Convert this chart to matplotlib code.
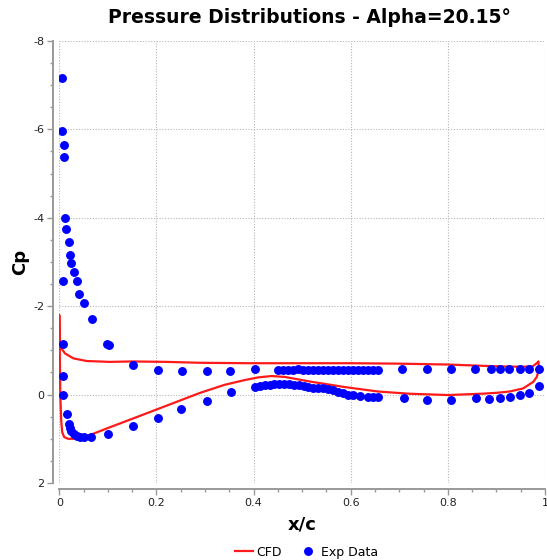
import matplotlib
matplotlib.use('Agg')
import matplotlib.pyplot as plt
from matplotlib.ticker import MultipleLocator

exp_x_upper = [0.005, 0.006, 0.009, 0.009, 0.011, 0.013, 0.019, 0.022, 0.025, 0.031,
               0.036, 0.041, 0.050, 0.067, 0.099, 0.103, 0.152, 0.203, 0.252, 0.305,
               0.351, 0.403,
               0.451, 0.461, 0.471, 0.481, 0.491, 0.502, 0.512, 0.522, 0.532, 0.543,
               0.553, 0.563, 0.574, 0.584, 0.594, 0.604, 0.615, 0.625, 0.635, 0.646,
               0.656,
               0.705, 0.756, 0.807, 0.856, 0.888, 0.908, 0.925, 0.948, 0.968, 0.988]
exp_cp_upper = [-7.16, -5.97, -5.64, -5.38, -4.00, -3.74, -3.45, -3.16, -2.97, -2.77,
                -2.57, -2.28, -2.08, -1.72, -1.14, -1.13, -0.67, -0.55, -0.53, -0.53,
                -0.53, -0.57,
                -0.55, -0.55, -0.56, -0.56, -0.57, -0.56, -0.56, -0.55, -0.56, -0.56,
                -0.56, -0.56, -0.56, -0.56, -0.56, -0.55, -0.56, -0.56, -0.56, -0.55,
                -0.56,
                -0.57, -0.59, -0.59, -0.58, -0.58, -0.58, -0.58, -0.57, -0.57, -0.57]

exp_x_lower = [0.007, 0.007, 0.008, 0.008, 0.015, 0.019, 0.022, 0.025, 0.030, 0.036,
               0.043, 0.050, 0.066, 0.100, 0.152, 0.203, 0.251, 0.305, 0.353,
               0.403, 0.413, 0.423, 0.433, 0.443, 0.453, 0.463, 0.473, 0.483, 0.493,
               0.503, 0.513, 0.523, 0.533, 0.543, 0.553, 0.563, 0.573, 0.584, 0.594,
               0.605, 0.619, 0.636, 0.646, 0.656,
               0.709, 0.757, 0.807, 0.857, 0.885, 0.907, 0.927, 0.949, 0.967, 0.988]
exp_cp_lower = [-2.58, -1.15, -0.42, 0.02, 0.44, 0.66, 0.75, 0.83, 0.89, 0.94,
                0.96, 0.96, 0.95, 0.89, 0.71, 0.53, 0.32, 0.14, -0.06,
                -0.18, -0.20, -0.21, -0.22, -0.23, -0.24, -0.24, -0.23, -0.22, -0.21,
                -0.20, -0.18, -0.16, -0.15, -0.14, -0.13, -0.11, -0.07, -0.03, 0.00,
                0.02, 0.04, 0.05, 0.05, 0.05,
                0.08, 0.12, 0.12, 0.08, 0.10, 0.07, 0.05, 0.02, -0.03, -0.19]

# --- CFD Cp curve (upper TE -> LE -> lower TE) ---
cfd_x = [0.986, 0.975, 0.950, 0.900, 0.850, 0.800, 0.700, 0.600, 0.500, 0.390,
         0.290, 0.220, 0.150, 0.104, 0.056, 0.029, 0.012, 0.004, 0.001, 0.000,
         0.000, 0.001, 0.002, 0.004, 0.006, 0.010, 0.018, 0.036, 0.050, 0.104,
         0.152, 0.221, 0.290, 0.340, 0.382, 0.410, 0.437, 0.464, 0.519, 0.588,
         0.656, 0.720, 0.800, 0.870, 0.900, 0.927, 0.955, 0.976, 0.983, 0.988,
         0.986]
cfd_cp = [-0.74, -0.64, -0.63, -0.64, -0.66, -0.68, -0.70, -0.71, -0.71, -0.71,
          -0.72, -0.74, -0.75, -0.74, -0.76, -0.82, -0.93, -1.05, -1.16, -1.50,
          -1.80, -1.00, 0.00, 0.60, 0.85, 0.96, 1.00, 1.00, 0.97, 0.74,
          0.54, 0.25, -0.04, -0.22, -0.33, -0.39, -0.42, -0.40, -0.29, -0.17,
          -0.07, -0.02, 0.01, -0.02, -0.04, -0.07, -0.14, -0.29, -0.40, -0.59,
          -0.74]

x_ticks = [0, 0.2, 0.4, 0.6, 0.8, 1]
x_tick_labels = ['0', '0.2', '0.4', '0.6', '0.8', '1']
y_ticks = [-8, -6, -4, -2, 0, 2]
y_tick_labels = ['-8', '-6', '-4', '-2', '0', '2']


def main():
    plt.rcParams['font.family'] = ['DejaVu Sans']
    fig = plt.figure(figsize=(5.47, 5.6), dpi=100)
    ax = fig.add_axes([0.1084, 0.1375, 0.888, 0.7893])

    ax.plot(cfd_x, cfd_cp, color='#ff1a1a', lw=1.6, label='CFD', zorder=3)
    ax.plot(exp_x_upper + exp_x_lower, exp_cp_upper + exp_cp_lower, ls='',
            marker='o', ms=5.4, color='#0000ff', mec='#0000ff', label='Exp Data', zorder=4)

    ax.set_xlim(0, 1)
    ax.set_ylim(2, -8)  # Cp axis inverted
    ax.set_xticks(x_ticks)
    ax.set_xticklabels(x_tick_labels)
    ax.set_yticks(y_ticks)
    ax.set_yticklabels(y_tick_labels)
    ax.xaxis.set_minor_locator(MultipleLocator(0.05))
    ax.yaxis.set_minor_locator(MultipleLocator(0.5))

    ax.grid(True, which='major', ls=(0, (1, 1.5)), color='#b5b5b5', lw=0.8)
    for side in ['top', 'right']:
        ax.spines[side].set_visible(False)
    for side in ['left', 'bottom']:
        ax.spines[side].set_position(('outward', 4.5))
        ax.spines[side].set_color('#999999')
        ax.spines[side].set_linewidth(1.4)
    ax.tick_params(which='major', length=4, width=1, color='#999999', labelsize=8,
                   labelcolor='#222222', pad=2)
    ax.tick_params(which='minor', length=2.5, width=1, color='#999999')

    ax.set_xlabel('x/c', fontsize=13, fontweight='bold', labelpad=6)
    ax.set_ylabel('Cp', fontsize=13, fontweight='bold', labelpad=3)
    fig.suptitle('Pressure Distributions - Alpha=20.15\u00b0', x=0.565, y=0.985,
                 fontsize=13.5, fontweight='bold')

    fig.legend(loc='lower center', bbox_to_anchor=(0.56, -0.018), ncol=2, frameon=False,
               fontsize=9, handlelength=1.4, handletextpad=0.3, columnspacing=1.4)

    fig.savefig('out.png', dpi=100)


if __name__ == '__main__':
    main()
